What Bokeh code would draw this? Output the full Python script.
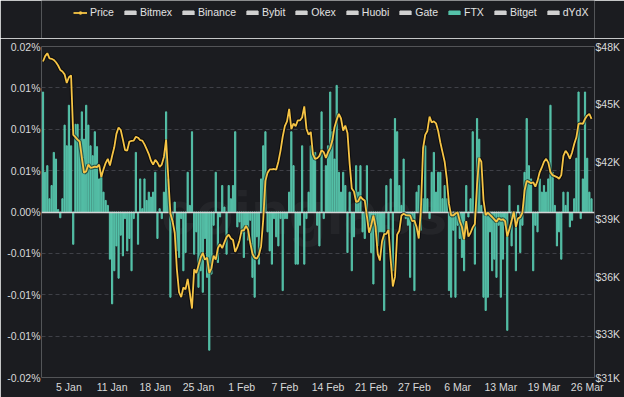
from bokeh.plotting import figure
from bokeh.layouts import column
from bokeh.models import (Range1d, LinearAxis, FixedTicker, Legend, LegendItem,
                          ColumnDataSource, Label, CustomJSTickFormatter)
from bokeh.embed import file_html
from bokeh.resources import INLINE

# ---------------- data (8-hourly, 1 Jan 2022 -> 27 Mar 2022) ----------------
price = [
    47220, 47500, 47650, 47380, 47360, 47300, 47180, 47010, 46780, 46700,
    46550, 46100, 46400, 46500, 43400, 43280, 43150, 43050, 42200, 41420,
    41500, 41850, 41680, 41700, 41740, 41720, 41850, 41200, 41600, 41930,
    42150, 41800, 42300, 42750, 43450, 43780, 43650, 43150, 42600, 42580,
    43050, 43080, 43100, 43300, 43250, 43120, 43100, 42900, 42650, 42400,
    42050, 41850, 42100, 41950, 41730, 41850, 42250, 43150, 41200, 39300,
    38900, 38300, 36400, 35200, 34950, 35450, 35350, 35900, 35150, 34350,
    36400, 36200, 36600, 37000, 37250, 36900, 37000, 36200, 36450, 37100,
    36900, 37500, 37700, 37500, 37800, 38070, 38200, 38000, 37920, 37300,
    37550, 37900, 38420, 38420, 38650, 38450, 37750, 37200, 37000, 36950,
    37150, 37600, 39000, 41000, 41430, 41600, 41600, 41620, 41580, 42000,
    42580, 43300, 43850, 44100, 44750, 43700, 43980, 43850, 44150, 44150,
    44300, 44880, 43720, 43400, 43550, 42400, 42150, 42180, 42300, 42600,
    42500, 42200, 42500, 42720, 43100, 43800, 44180, 44490, 44250, 43620,
    43880, 43500, 41900, 40600, 40450, 39900, 39950, 40180, 40050, 39980,
    39150, 38300, 38700, 39200, 38600, 37200, 36850, 37850, 38230, 38240,
    38450, 36900, 35500, 36000, 38200, 38400, 39200, 39290, 39220, 39200,
    39200, 38900, 38930, 38600, 38000, 39500, 42700, 43400, 43600, 44350,
    44050, 44100, 44000, 43600, 43000, 42500, 42000, 41100, 39800, 39200,
    39200, 39300, 39370, 38900, 38600, 37950, 38900, 38100, 38300, 38580,
    38760, 40800, 42200, 42000, 40000, 39220, 39350, 39230, 39120, 39000,
    38870, 39050, 38970, 39000, 38900, 38100, 38500, 38920, 39400, 38600,
    39050, 39110, 39350, 40500, 41000, 40950, 40880, 40930, 40700, 41000,
    41450, 41700, 42000, 42150, 41950, 41450, 41300, 41250, 41200, 41110,
    41300, 42300, 42570, 42410, 42150, 42480, 42920, 43270, 43970, 44000,
    43970, 44230, 44400, 44490, 44230,
]

ftx = [  # funding rate, %
    0.0145, 0.0048, 0.0056, 0.0016, 0.0032, 0.0072, 0.0064, 0.0003, -0.0007, 0.0016,
    0.0105, 0.0080, 0.0129, 0.0080, -0.0039, 0.0106, 0.0106, 0.0088, 0.0121, 0.0088,
    0.0129, 0.0105, 0.0080, 0.0068, 0.0097, 0.0079, 0.0040, 0.0048, 0.0024, 0.0014,
    0.0008, -0.0057, -0.0111, -0.0071, -0.0041, -0.0080, -0.0028, -0.0053, -0.0008, -0.0047,
    -0.0032, -0.0071, -0.0008, 0.0072, -0.0039, 0.0040, 0.0004, 0.0040, 0.0014, 0.0024,
    0.0018, 0.0024, 0.0048, -0.0032, 0.0004, -0.0008, 0.0024, 0.0121, 0.0040, -0.0103,
    -0.0012, 0.0012, -0.0047, -0.0055, -0.0008, -0.0071, -0.0049, 0.0048, 0.0008, 0.0097,
    -0.0051, -0.0024, -0.0091, -0.0071, -0.0097, -0.0032, -0.0079, -0.0167, -0.0075, -0.0016,
    0.0048, -0.0061, -0.0006, 0.0032, 0.0006, -0.0051, 0.0032, 0.0016, 0.0032, 0.0097,
    -0.0018, -0.0012, -0.0026, -0.0055, -0.0018, -0.0034, -0.0010, -0.0079, -0.0103, -0.0030,
    -0.0063, 0.0040, 0.0080, 0.0097, -0.0024, -0.0047, -0.0063, -0.0008, -0.0030, -0.0041,
    -0.0008, -0.0095, -0.0008, -0.0008, 0.0024, 0.0097, 0.0056, -0.0063, -0.0063, -0.0016,
    0.0080, -0.0063, -0.0008, 0.0024, 0.0080, 0.0072, 0.0072, -0.0016, -0.0041, 0.0121,
    -0.0008, 0.0056, 0.0080, 0.0145, 0.0097, 0.0064, 0.0153, 0.0048, 0.0024, 0.0048,
    0.0032, -0.0049, 0.0024, -0.0071, -0.0030, 0.0056, 0.0024, 0.0056, -0.0024, -0.0032,
    0.0056, -0.0016, -0.0049, -0.0087, -0.0024, -0.0041, -0.0024, -0.0024, -0.0119, 0.0032,
    -0.0024, 0.0040, -0.0071, 0.0113, 0.0097, 0.0032, 0.0008, 0.0064, -0.0008, -0.0016,
    -0.0079, -0.0008, -0.0095, 0.0024, 0.0032, -0.0022, 0.0016, 0.0080, 0.0016, -0.0008,
    0.0048, 0.0072, 0.0024, 0.0048, 0.0048, 0.0016, 0.0032, 0.0016, -0.0095, -0.0103,
    -0.0022, -0.0103, -0.0016, -0.0032, -0.0055, -0.0071, 0.0032, -0.0006, 0.0016, 0.0097,
    -0.0063, 0.0113, 0.0088, 0.0008, -0.0103, -0.0119, -0.0103, -0.0024, -0.0071, -0.0057,
    -0.0079, -0.0016, -0.0103, -0.0057, -0.0016, -0.0143, 0.0032, -0.0041, -0.0008, -0.0071,
    0.0008, -0.0049, -0.0016, 0.0048, 0.0113, 0.0056, 0.0040, -0.0071, -0.0016, -0.0024,
    0.0040, 0.0024, 0.0032, 0.0024, 0.0040, 0.0129, 0.0048, 0.0008, -0.0041, -0.0024,
    -0.0057, 0.0024, 0.0008, 0.0024, -0.0018, -0.0010, 0.0016, 0.0065, 0.0145, -0.0008,
    0.0040, 0.0145, 0.0065, 0.0024, 0.0016,
]

x_tick_pos = [12, 32, 52, 72, 92, 112, 132, 152, 172, 192, 212, 232, 252]
x_tick_labels = ["5 Jan", "11 Jan", "18 Jan", "25 Jan", "1 Feb", "7 Feb", "14 Feb",
                 "21 Feb", "27 Feb", "6 Mar", "13 Mar", "19 Mar", "26 Mar"]
rate_ticks = [-0.02, -0.015, -0.01, -0.005, 0, 0.005, 0.01, 0.015, 0.02]
price_ticks = [30760, 33000, 36000, 39000, 42000, 45000, 48000]
exchanges = ["Bitmex", "Binance", "Bybit", "Okex", "Huobi", "Gate", "FTX", "Bitget", "dYdX"]
shown_exchange = "FTX"   # the other exchanges are toggled off (no bars drawn)

# ---------------- style ----------------
BG = "#1b1c20"
TEAL = "#55c2a9"
YELLOW = "#f6c445"
HIDDEN = "#d0d0d0"
TXT = "#d9d9d9"
FONT = "Liberation Sans"
FS = "10.5px"

W = 624
LEG_FIG_H = 38
MAIN_H = 397 - LEG_FIG_H
n = len(price)
idx = list(range(n))
src = ColumnDataSource(dict(i=idx, price=price, ftx=ftx))
nan = float("nan")

# ---------------- main chart ----------------
p = figure(width=W, height=MAIN_H, output_backend="svg", toolbar_location=None, title=None,
           x_range=Range1d(-0.695, n - 1 + 1.39),
           y_range=Range1d(rate_ticks[0], rate_ticks[-1]),
           min_border_left=41, min_border_right=30, min_border_top=8, min_border_bottom=20,
           background_fill_color=BG, border_fill_color=BG, outline_line_color=None)
p.extra_y_ranges = {"price": Range1d(price_ticks[0], price_ticks[-1])}

# watermark
p.add_layout(Label(x=121, y=0, text="coinglass", text_font=FONT, text_font_size="62px",
                   text_font_style="bold", text_color="#ffffff", text_alpha=0.045,
                   text_align="center", text_baseline="middle", level="underlay"))

p.vbar(x="i", top="ftx", source=src, width=0.55, color=TEAL)
p.hspan(y=[0], line_color="#d4d4d4", line_width=1.5)
p.line("i", "price", source=src, y_range_name="price", line_color="#000000",
       line_alpha=0.55, line_width=4)
p.line("i", "price", source=src, y_range_name="price", line_color=YELLOW, line_width=1.8)

left_ticker = FixedTicker(ticks=rate_ticks)
ya = p.yaxis[0]
ya.ticker = left_ticker
ya.formatter = CustomJSTickFormatter(code="return tick.toFixed(2) + '%';")
xa = p.xaxis[0]
xa.ticker = FixedTicker(ticks=x_tick_pos)
xa.major_label_overrides = dict(zip(x_tick_pos, x_tick_labels))
ra = LinearAxis(y_range_name="price", ticker=FixedTicker(ticks=price_ticks),
                formatter=CustomJSTickFormatter(code="return '$' + Math.round(tick/1000) + 'K';"))
p.add_layout(ra, "right")

for ax in (xa, ya, ra):
    ax.axis_line_color = None
    ax.major_tick_line_color = None
    ax.minor_tick_line_color = None
    ax.major_tick_out = 0
    ax.major_tick_in = 0
    ax.minor_tick_out = 0
    ax.major_label_text_color = TXT
    ax.major_label_text_font = FONT
    ax.major_label_text_font_size = FS
ya.major_label_standoff = 1
ra.major_label_standoff = 1
xa.major_label_standoff = 3

p.xgrid.grid_line_color = None
p.ygrid.ticker = left_ticker
p.ygrid.grid_line_color = "#3f4047"
p.ygrid.grid_line_dash = "4 3"

# ---------------- legend strip (its own canvas above the chart) ----------------
lg = figure(width=W, height=LEG_FIG_H, output_backend="svg", toolbar_location=None,
            title=None, x_range=Range1d(0, 1), y_range=Range1d(0, 1),
            x_axis_location=None, y_axis_location=None,
            min_border_left=0, min_border_right=0, min_border_top=0, min_border_bottom=0,
            background_fill_color=BG, border_fill_color=BG, outline_line_color=None)
lg.grid.visible = False

lg_line = lg.line(x=[0], y=[nan], line_color=YELLOW, line_width=1.8)
lg_dot = lg.scatter(x=[0], y=[nan], marker="circle", size=7,
                    fill_color="#fbe3a0", line_color=YELLOW, line_width=1.5)
items = [LegendItem(label="Price", renderers=[lg_line, lg_dot])]
for name in exchanges:
    col = TEAL if name == shown_exchange else HIDDEN
    r = lg.vbar(x=[0], top=[nan], width=0.5, color=col)
    items.append(LegendItem(label=name, renderers=[r]))

LEG_H = 12
legend = Legend(items=items, orientation="horizontal",
                location=(32, LEG_FIG_H - 6 - LEG_H),
                glyph_width=14, glyph_height=5, label_standoff=3, spacing=9,
                padding=0, margin=0, label_height=LEG_H, label_width=10,
                label_text_font=FONT, label_text_font_size=FS, label_text_color="#e2e2e2",
                background_fill_alpha=0, border_line_alpha=0)
lg.add_layout(legend)

page = column(lg, p, spacing=0)
open("out.html", "w").write(file_html(page, INLINE))
